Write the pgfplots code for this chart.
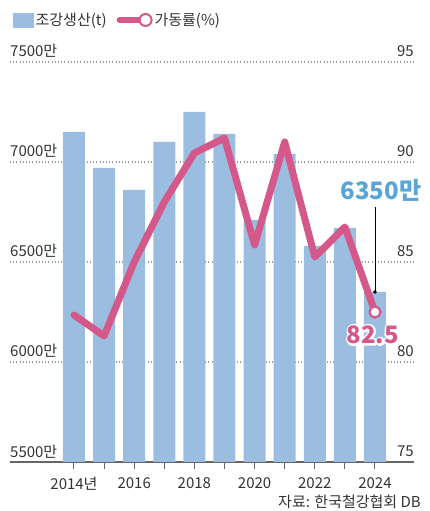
\documentclass[border=0pt]{standalone}
\usepackage{pgfplots}
\pgfplotsset{compat=1.18}
\usepackage{fontspec}
\setmainfont{Noto Sans CJK KR}
\definecolor{barcol}{HTML}{9BBEE0}
\definecolor{linecol}{HTML}{D4588A}
\definecolor{labblue}{HTML}{5AA5D8}
\definecolor{txt}{HTML}{333333}
\definecolor{gridc}{HTML}{9A9A9A}
\definecolor{axc}{HTML}{666666}
\newcommand{\halo}[1]{\rlap{\special{pdf:literal direct 1 Tr 4 w 1 J 1 j 1 1 1 RG}#1\special{pdf:literal direct 0 Tr 1 w 0 J 0 j}}#1}
\begin{document}
\begin{tikzpicture}[x=1pt,y=1pt]
\path[use as bounding box] (0,0) rectangle (429,511);
\begin{axis}[
  at={(10pt,49pt)}, anchor=south west,
  scale only axis, width=404pt, height=400pt,
  xmin=-2.126, xmax=11.296, ymin=5500, ymax=7500,
  axis x line*=bottom, axis y line*=left,
  x axis line style={axc, line width=1.1pt, -},
  y axis line style={draw=none},
  xtick={0,...,10},
  xticklabels={2014년,,2016,,2018,,2020,,2022,,2024},
  tick align=outside, major tick length=7pt,
  xtick style={axc, line width=1pt},
  xticklabel style={font=\fontsize{15}{18}\selectfont, text=txt, yshift=-5pt},
  ytick={5500,6000,6500,7000,7500},
  yticklabels={},
  ytick style={draw=none},
  ymajorgrids, grid style={gridc, line width=1.2pt, dash pattern=on 1pt off 2.2pt},
  clip=false,
]
\addplot[ybar, bar width=22pt, fill=barcol, draw=none] coordinates {
 (0,7150) (1,6970) (2,6860) (3,7100) (4,7250) (5,7140) (6,6710) (7,7040) (8,6580) (9,6670) (10,6350)};
\addplot[black, line width=0.8pt] coordinates {(10,6350) (10,6775)};
\addplot[only marks, mark=*, mark size=1.5pt, black] coordinates {(10,6350)};
\foreach \v/\l in {5500/5500만,6000/6000만,6500/6500만,7000/7000만,7500/7500만} {
  \edef\tmp{\noexpand\node[anchor=base west, inner sep=0pt, text=txt, font=\noexpand\fontsize{15}{18}\noexpand\selectfont, yshift=5pt] at (axis cs:-2.126,\v) {\l};}
  \tmp
}
\node[anchor=base, text=labblue, font=\fontsize{24}{28}\selectfont\bfseries, inner sep=0pt] at (axis cs:10.2,6810) {6350만};
\end{axis}
\begin{axis}[
  at={(10pt,49pt)}, anchor=south west,
  scale only axis, width=404pt, height=400pt,
  xmin=-2.126, xmax=11.296, ymin=75, ymax=95,
  axis x line=none, axis y line=none,
  clip=false,
  legend style={at={(rel axis cs:0,1.105)}, anchor=west, draw=none, fill=none,
    legend columns=2, font=\fontsize{15}{18}\selectfont, text=txt,
    /tikz/every even column/.append style={column sep=8pt}},
  legend cell align=left,
]
\addlegendimage{legend image code/.code={\fill[barcol] (0pt,-7pt) rectangle (20pt,7pt);}}
\addlegendentry{조강생산(t)}
\addplot[linecol, line width=7pt, line join=round, line cap=round,
  mark=*, mark indices={11}, mark size=5.5pt,
  mark options={fill=white, draw=linecol, line width=2.2pt},
  legend image code/.code={\draw[line width=6pt, linecol, line cap=round] (0pt,0pt) -- (24pt,0pt); \draw[linecol, line width=2pt, fill=white] (26pt,0pt) circle (6pt);}]
 coordinates {(0,82.35) (1,81.3) (2,85.0) (3,88.0) (4,90.45) (5,91.2) (6,85.85) (7,91.0) (8,85.25) (9,86.75) (10,82.5)};
\addlegendentry{가동률(\%)}
\foreach \v in {75,80,85,90,95} {
  \edef\tmp{\noexpand\node[anchor=base east, inner sep=0pt, text=txt, font=\noexpand\fontsize{15}{18}\noexpand\selectfont, yshift=5pt] at (axis cs:11.296,\v) {\v};}
  \tmp
}
\node[text=linecol, font=\fontsize{24}{28}\selectfont\bfseries, inner sep=0pt] at (axis cs:9.93,81.35) {\halo{82.5}};
\end{axis}
\node[anchor=base east, inner sep=0pt, text=txt, font=\fontsize{15}{18}\selectfont] at (421,3) {자료: 한국철강협회 DB};
\end{tikzpicture}
\end{document}
